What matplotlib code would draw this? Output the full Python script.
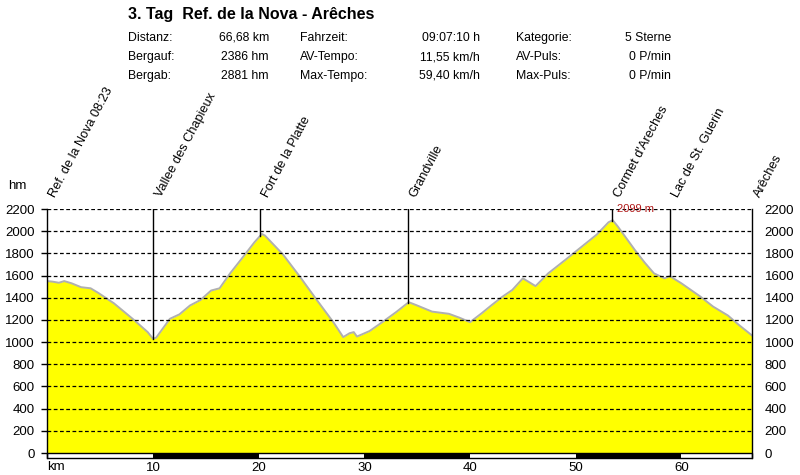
import numpy as np
import matplotlib
matplotlib.use("Agg")
import matplotlib.pyplot as plt
from matplotlib.patches import Rectangle

plt.rcParams['font.family'] = ['Liberation Sans', 'DejaVu Sans']

# profile: distance (km) and elevation (m)
km = [0.0, 0.5, 1.1, 1.6, 2.3, 3.2, 4.1, 4.8, 6.3, 8.2, 9.5, 10.0, 10.3, 11.6,
      12.5, 13.5, 14.5, 15.5, 16.3, 17.3, 18.5, 19.6, 20.3, 20.6, 22.3, 23.9,
      25.5, 27.1, 28.0, 28.6, 29.0, 29.3, 30.5, 31.7, 33.0, 34.2, 35.0, 36.4,
      38.0, 39.0, 40.0, 41.1, 42.0, 43.0, 44.0, 45.0, 46.2, 47.4, 49.0, 50.5,
      52.0, 53.1, 53.5, 54.0, 55.6, 56.5, 57.4, 58.4, 58.9, 60.0, 61.8, 63.0,
      64.4, 65.5, 66.68]
elev = [1550, 1545, 1535, 1550, 1530, 1495, 1485, 1445, 1350, 1200, 1090, 1030,
        1040, 1210, 1250, 1330, 1380, 1465, 1485, 1620, 1765, 1900, 1975, 1960,
        1790, 1590, 1380, 1175, 1045, 1080, 1090, 1050, 1100, 1180, 1270, 1360,
        1330, 1275, 1255, 1220, 1180, 1260, 1330, 1405, 1470, 1575, 1505, 1620,
        1740, 1855, 1970, 2080, 2099, 2040, 1830, 1720, 1620, 1575, 1595, 1530,
        1410, 1320, 1240, 1150, 1060]

# waypoints
wp_names = ["Ref. de la Nova 08:23", "Vallee des Chapieux", "Fort de la Platte",
            "Grandville", "Cormet d'Areches", "Lac de St. Guerin", "Arêches"]
wp_km = [0.0, 10.0, 20.1, 34.1, 53.4, 58.9, 66.68]
wp_line = [False, True, True, True, True, True, False]

peak_km = 53.5
peak_label = "2099 m"

title = "3. Tag  Ref. de la Nova - Arêches"
stats = [
    ["Distanz:", "66,68 km", "Fahrzeit:", "09:07:10 h", "Kategorie:", "5 Sterne"],
    ["Bergauf:", "2386 hm", "AV-Tempo:", "11,55 km/h", "AV-Puls:", "0 P/min"],
    ["Bergab:", "2881 hm", "Max-Tempo:", "59,40 km/h", "Max-Puls:", "0 P/min"],
]

total_km = 66.68
yticks = list(range(0, 2201, 200))
xticks = [10, 20, 30, 40, 50, 60]

W, H = 800, 475
fig = plt.figure(figsize=(8, 4.75), dpi=100)
x0, x1, ytop, ybot = 47.3, 752, 209, 458
ax = fig.add_axes([x0 / W, (H - ybot) / H, (x1 - x0) / W, (ybot - ytop) / H])

ax.fill_between(km, 0, elev, color='#ffff00', lw=0, zorder=1)
ax.plot(km, elev, color='#b0b0b0', lw=1.4, zorder=2, solid_joinstyle='round')

for yv in yticks[1:]:
    ax.plot([0, total_km], [yv, yv], color='black', lw=0.9, ls=(0, (3, 2)), zorder=3)

# waypoint lines and labels
for name, k, has_line in zip(wp_names, wp_km, wp_line):
    if has_line:
        ax.plot([k, k], [np.interp(k, km, elev), 2200], color='black', lw=1, zorder=4)
    ax.text(k + 1.0, 2290, name, rotation=62, rotation_mode='anchor',
            ha='left', va='bottom', fontsize=9.2, clip_on=False)

ax.text(peak_km + 0.4, 2200, peak_label, color='#b01818', fontsize=8,
        ha='left', va='center', zorder=5)

# km bar at the bottom
ybar = -45
for i in range(0, 70, 10):
    col = 'black' if (i // 10) % 2 == 1 else 'white'
    ax.add_patch(Rectangle((i, ybar), min(10, total_km - i), -ybar, facecolor=col,
                           edgecolor='none', zorder=5, clip_on=False))
ax.add_patch(Rectangle((0, ybar), total_km, -ybar, facecolor='none',
                       edgecolor='black', lw=1, zorder=6, clip_on=False))

ax.set_xlim(0, total_km)
ax.set_ylim(ybar, 2200)
ax.set_yticks(yticks)
ax.set_yticklabels([str(v) for v in yticks])
ax.set_xticks(xticks)
ax.set_xticklabels([str(v) for v in xticks])
ax.tick_params(axis='y', left=True, right=False, labelright=True, length=4,
               width=1, pad=5, labelsize=9.5)
ax.tick_params(axis='x', length=0, pad=3, labelsize=9.5)
for s in ['top', 'bottom']:
    ax.spines[s].set_visible(False)
for s in ['left', 'right']:
    ax.spines[s].set_linewidth(1)
    ax.spines[s].set_zorder(6)

fig.text(47 / W, 1 - 467 / H, "km", ha='left', va='center', fontsize=9.5)
fig.text(17 / W, 1 - 186 / H, "hm", ha='center', va='center', fontsize=9.5)

# header
fig.text(128 / W, 1 - 15 / H, title, fontsize=11.5, fontweight='bold',
         ha='left', va='center')
col_x = [(128, 'left'), (269, 'right'), (300, 'left'), (480, 'right'),
         (516, 'left'), (671, 'right')]
for r, row in enumerate(stats):
    yy = 1 - (38 + 19 * r) / H
    for txt, (cx, ha) in zip(row, col_x):
        fig.text(cx / W, yy, txt, fontsize=8.8, ha=ha, va='center')

fig.savefig("out.png", dpi=100)
